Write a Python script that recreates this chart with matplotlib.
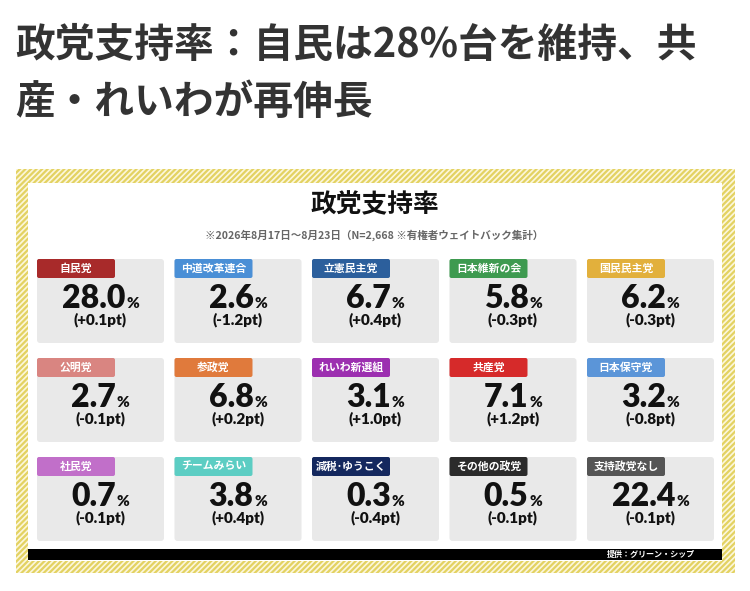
import matplotlib
matplotlib.use("Agg")
import matplotlib.pyplot as plt
from matplotlib.patches import Rectangle, FancyBboxPatch

# データ
parties = ["自民党", "中道改革連合", "立憲民主党", "日本維新の会", "国民民主党",
           "公明党", "参政党", "れいわ新選組", "共産党", "日本保守党",
           "社民党", "チームみらい", "減税･ゆうこく", "その他の政党", "支持政党なし"]
support = [28.0, 2.6, 6.7, 5.8, 6.2,
           2.7, 6.8, 3.1, 7.1, 3.2,
           0.7, 3.8, 0.3, 0.5, 22.4]
change = [0.1, -1.2, 0.4, -0.3, -0.3,
          -0.1, 0.2, 1.0, 1.2, -0.8,
          -0.1, 0.4, -0.4, -0.1, -0.1]
tab_colors = ["#a82a2a", "#4a8fd6", "#2c5f9c", "#3e9a50", "#e2b03c",
              "#d98581", "#e07a3c", "#9c2fb0", "#d62a2a", "#5b95d8",
              "#c16fc9", "#5ccdc3", "#14285e", "#2b2b2b", "#555555"]

headline = ["政党支持率：自民は28%台を維持、共", "産・れいわが再伸長"]
panel_title = "政党支持率"
subtitle = "※2026年8月17日～8月23日（N=2,668 ※有権者ウェイトバック集計）"
credit = "提供：グリーン・シップ"

JP = ["Noto Sans CJK JP", "DejaVu Sans"]
NUM = ["Lato", "DejaVu Sans"]
plt.rcParams["hatch.linewidth"] = 1.6

fig = plt.figure(figsize=(7.5, 5.91), dpi=100)
ax = fig.add_axes([0, 0, 1, 1])
ax.set_xlim(0, 750)
ax.set_ylim(591, 0)
ax.axis("off")
renderer = fig.canvas.get_renderer()

# 見出し
for i, line in enumerate(headline):
    ax.text(15, 45 + i * 58, line, fontsize=28.6, fontweight="bold", color="#333333",
            family=JP, ha="left", va="center")

# 黄色いストライプ枠
ax.add_patch(Rectangle((16, 169), 719, 404, facecolor="#fcf7dc", edgecolor="#e3d262",
                       hatch="//////", linewidth=0))
ax.add_patch(Rectangle((28, 183), 694, 378, facecolor="white", linewidth=0))

ax.text(375, 205, panel_title, fontsize=18.5, fontweight="bold", color="#111111",
        family=JP, ha="center", va="center")
ax.text(374, 235, subtitle, fontsize=7.6, fontweight="bold", color="#666666",
        family=JP, ha="center", va="center")

# カード
card_w, card_h = 127, 84
for i, name in enumerate(parties):
    row, col = divmod(i, 5)
    x0 = 37 + col * 137.5
    y0 = 259 + row * 99
    ax.add_patch(FancyBboxPatch((x0, y0), card_w, card_h,
                                boxstyle="round,pad=0,rounding_size=3",
                                facecolor="#e9e9e9", edgecolor="none"))
    ax.add_patch(FancyBboxPatch((x0, y0), 78, 19,
                                boxstyle="round,pad=0,rounding_size=2",
                                facecolor=tab_colors[i], edgecolor="none"))
    ax.text(x0 + 39, y0 + 9.5, name, fontsize=7.8, fontweight="bold", color="white",
            family=JP, ha="center", va="center")

    cx = x0 + card_w / 2
    num = ax.text(cx - 7, y0 + 49, f"{support[i]:.1f}", fontsize=23, fontweight="heavy",
                  color="#111111", family=NUM, ha="center", va="baseline")
    right = ax.transData.inverted().transform(num.get_window_extent(renderer))[1][0]
    ax.text(right + 1, y0 + 49, "%", fontsize=11, fontweight="heavy", color="#111111",
            family=NUM, ha="left", va="baseline")
    ax.text(cx, y0 + 61, f"({change[i]:+.1f}pt)", fontsize=11, fontweight="heavy",
            color="#111111", family=NUM, ha="center", va="center")

# 下の黒帯
ax.add_patch(Rectangle((28, 549), 694, 11, facecolor="black", linewidth=0))
ax.text(695, 554.5, credit, fontsize=5.8, fontweight="bold", color="white",
        family=JP, ha="right", va="center")

fig.savefig("out.png", dpi=100)
